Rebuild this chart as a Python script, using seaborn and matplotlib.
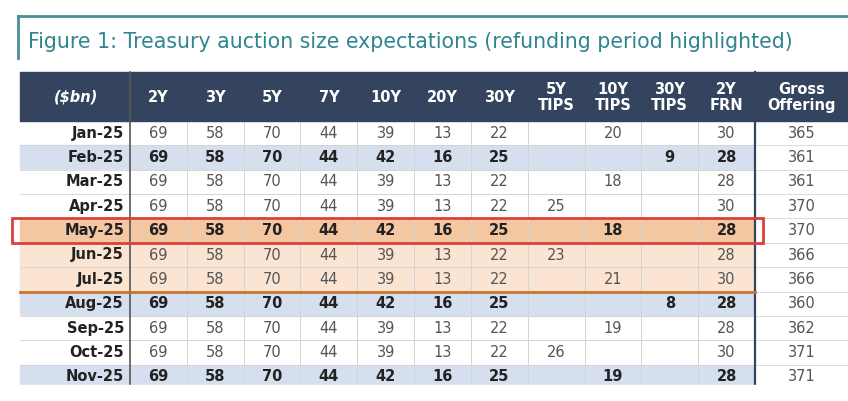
import numpy as np
import pandas as pd
import matplotlib
matplotlib.use("Agg")
import matplotlib.pyplot as plt
import seaborn as sns
from matplotlib.patches import Rectangle

plt.rcParams["font.family"] = ["Liberation Sans Narrow", "DejaVu Sans"]

months = ["Jan-25", "Feb-25", "Mar-25", "Apr-25", "May-25", "Jun-25",
          "Jul-25", "Aug-25", "Sep-25", "Oct-25", "Nov-25"]
columns = ["2Y", "3Y", "5Y", "7Y", "10Y", "20Y", "30Y",
           "5Y\nTIPS", "10Y\nTIPS", "30Y\nTIPS", "2Y\nFRN"]
nominal_small = [69, 58, 70, 44, 39, 13, 22]
nominal_big = [69, 58, 70, 44, 42, 16, 25]
tips_5y = [None, None, None, 25, None, 23, None, None, None, 26, None]
tips_10y = [20, None, 18, None, 18, None, 21, None, 19, None, 19]
tips_30y = [None, 9, None, None, None, None, None, 8, None, None, None]
frn_2y = [30, 28, 28, 30, 28, 28, 30, 28, 28, 30, 28]
gross = [365, 361, 361, 370, 370, 366, 366, 360, 362, 371, 371]
# row style: 0 plain, 1 blue (bold), 2 refunding highlight (bold), 3 refunding period
row_style = [0, 1, 0, 0, 2, 3, 3, 1, 0, 0, 1]

bg_colors = ["#ffffff", "#d5dfee", "#f3c7a2", "#fbe4d2"]

rows = []
for i in range(len(months)):
    base = nominal_big if row_style[i] in (1, 2) else nominal_small
    rows.append(list(base) + [tips_5y[i], tips_10y[i], tips_30y[i], frn_2y[i]])
vals = pd.DataFrame(rows, index=months, columns=columns)
annot = vals.map(lambda v: "" if v is None or pd.isna(v) else str(int(v))).values
codes = np.array([[s] * len(columns) for s in row_style])

W, H = 848, 401
fig = plt.figure(figsize=(W / 100, H / 100), dpi=100)
x_lab0, x_tab0, x_tab1, x_end = 20, 130, 755, 848
y_head0, y_tab0, y_tab1 = 72, 121, 389
rh = (y_tab1 - y_tab0) / len(months)
cw = (x_tab1 - x_tab0) / len(columns)

ax = fig.add_axes([x_tab0 / W, 1 - y_tab1 / H, (x_tab1 - x_tab0) / W, (y_tab1 - y_tab0) / H])
sns.heatmap(codes, ax=ax, cmap=matplotlib.colors.ListedColormap(bg_colors), vmin=-0.5, vmax=3.5,
            cbar=False, annot=annot, fmt="", linewidths=0.6, linecolor="#d4d4d4",
            annot_kws={"fontsize": 10.5, "color": "#555555"})
ax.set_xticks([]); ax.set_yticks([])
for t in ax.texts:
    r = int(t.get_position()[1])
    if row_style[r] in (1, 2):
        t.set_fontweight("bold"); t.set_color("#222222")

ov = fig.add_axes([0, 0, 1, 1], zorder=5)
ov.set_xlim(0, W); ov.set_ylim(H, 0); ov.axis("off")
ov.patch.set_alpha(0)

# title frame
ov.plot([18, W], [16, 16], color="#4a8d96", lw=2)
ov.plot([18, 18], [16, 58], color="#4a8d96", lw=2)
ov.text(28, 42, "Figure 1: Treasury auction size expectations (refunding period highlighted)",
        fontsize=14.8, color="#2f8590", va="center", ha="left")

# header
ov.add_patch(Rectangle((x_lab0, y_head0), x_end - x_lab0, y_tab0 - y_head0, color="#34445f"))
ov.text(76, (y_head0 + y_tab0) / 2, "($bn)", color="white", fontsize=10.5, fontweight="bold",
        fontstyle="italic", ha="center", va="center")
for j, c in enumerate(columns):
    ov.text(x_tab0 + cw * (j + 0.5), (y_head0 + y_tab0) / 2 + 1, c, color="white", fontsize=10.5,
            fontweight="bold", ha="center", va="center", linespacing=1.1)
ov.text((x_tab1 + x_end) / 2, (y_head0 + y_tab0) / 2 + 1, "Gross\nOffering", color="white",
        fontsize=10.5, fontweight="bold", ha="center", va="center", linespacing=1.1)

# label and gross columns
for i, m in enumerate(months):
    y0 = y_tab0 + i * rh
    ov.add_patch(Rectangle((x_lab0, y0), x_tab0 - x_lab0, rh, color=bg_colors[row_style[i]], zorder=0))
    ov.plot([x_lab0, x_end], [y0 + rh, y0 + rh], color="#d4d4d4", lw=0.6, zorder=1)
    ov.text(x_tab0 - 6, y0 + rh / 2, m, fontsize=10.5, fontweight="bold", color="#222222",
            ha="right", va="center")
    ov.text((x_tab1 + x_end) / 2, y0 + rh / 2, str(gross[i]), fontsize=10.5, color="#555555",
            ha="center", va="center")

ov.plot([x_tab0, x_tab0], [y_head0, y_tab1], color="#555555", lw=1.2)
ov.plot([x_tab1, x_tab1], [y_head0, y_tab1], color="#34445f", lw=1.6)
ov.plot([x_lab0, x_tab1], [y_tab0 + 7 * rh, y_tab0 + 7 * rh], color="#c8742e", lw=2)
ov.add_patch(Rectangle((12, y_tab0 + 4 * rh), x_tab1 + 8 - 12, rh, fill=False,
                       edgecolor="#d9413a", lw=2, zorder=6))
ov.add_patch(Rectangle((0, y_tab1 - 4), W, H, color="white", zorder=7))

fig.savefig("out.png", dpi=100)
